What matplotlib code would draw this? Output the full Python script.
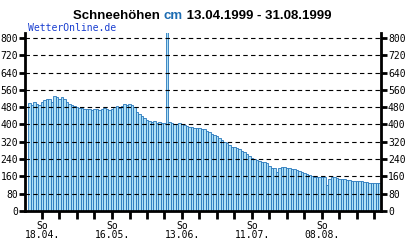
import matplotlib
matplotlib.use('Agg')
import matplotlib.pyplot as plt
import numpy as np
import pandas as pd

# daily snow depth in cm, 13.04.1999 - 31.08.1999
start_date = '1999-04-13'
end_date = '1999-08-31'
snow_cm = [
    500, 490, 505, 495, 490, 505, 515, 520, 520, 505,
    530, 525, 520, 525, 520, 505, 495, 490, 485, 480,
    475, 475, 470, 470, 470, 468, 470, 470, 468, 470,
    475, 470, 465, 470, 480, 485, 478, 485, 495, 492,
    495, 490, 480, 460, 450, 440, 430, 420, 415, 410,
    418, 408, 412, 405, 405, 860, 410, 405, 402, 400,
    405, 400, 398, 395, 390, 388, 385, 385, 382, 380,
    378, 370, 365, 358, 350, 345, 338, 330, 320, 314,
    305, 298, 295, 290, 285, 278, 272, 262, 252, 245,
    240, 238, 230, 228, 225, 220, 210, 200, 198, 180,
    200, 205, 203, 200, 200, 195, 192, 190, 185, 180,
    178, 172, 165, 160, 158, 158, 157, 155, 158, 120,
    150, 158, 155, 152, 150, 150, 148, 145, 142, 140,
    140, 138, 138, 138, 135, 132, 130, 128, 130, 128,
    130,
]
y_ticks = list(range(0, 801, 80))

days = pd.date_range(start_date, end_date, freq='D')
x = np.arange(len(days))
sundays = [i for i, d in enumerate(days) if d.weekday() == 6]
tick_labels = [f"So\n{days[i].strftime('%d.%m.')}" if k % 4 == 0 else ''
               for k, i in enumerate(sundays)]

fig = plt.figure(figsize=(4.12, 2.40), dpi=100)
ax = fig.add_axes([25 / 412, 29 / 240, 356 / 412, 178 / 240])

ax.bar(x, snow_cm, width=1.0, color='#b0e0f5', edgecolor='#2677bb',
       linewidth=0.6, zorder=1)

for y in y_ticks[1:]:
    ax.axhline(y, color='black', linestyle=(0, (4, 3)), linewidth=0.8, zorder=3)

ax.set_xlim(-1.8, 140.6)
ax.set_ylim(0, 823)

ax.spines['top'].set_visible(False)
for side in ('left', 'right', 'bottom'):
    ax.spines[side].set_linewidth(2)
    ax.spines[side].set_zorder(4)

mono = 'DejaVu Sans Mono'
ax.set_yticks(y_ticks)
ax.set_yticklabels([str(v) for v in y_ticks], fontsize=7, family=mono)
ax.tick_params(axis='y', which='both', left=True, right=True,
               labelleft=True, labelright=True, length=4, width=2, pad=1)

ax.set_xticks(sundays)
ax.set_xticklabels(tick_labels, fontsize=7, family=mono, linespacing=0.95)
ax.tick_params(axis='x', length=6, width=2, pad=1)

# title in three pieces, placed one after another, centred as a whole
base = 1 - 19 / 240
parts = [('Schneehöhen ', 'black'), ('cm', '#1c6cb2'),
         (' 13.04.1999 - 31.08.1999', 'black')]
renderer = fig.canvas.get_renderer()
texts = []
for s, c in parts:
    t = fig.text(0, base, s, ha='left', va='baseline', fontsize=9.5,
                 fontweight='bold', color=c, family='Liberation Sans')
    texts.append(t)
widths = [t.get_window_extent(renderer).width for t in texts]
left = 202 - sum(widths) / 2
for t, w in zip(texts, widths):
    t.set_x(left / 412)
    left += w

fig.text(28 / 412, 1 - 31 / 240, 'WetterOnline.de', ha='left', va='baseline',
         fontsize=7, color='#1a3fd0', family=mono)

fig.savefig('out.png', dpi=100)
